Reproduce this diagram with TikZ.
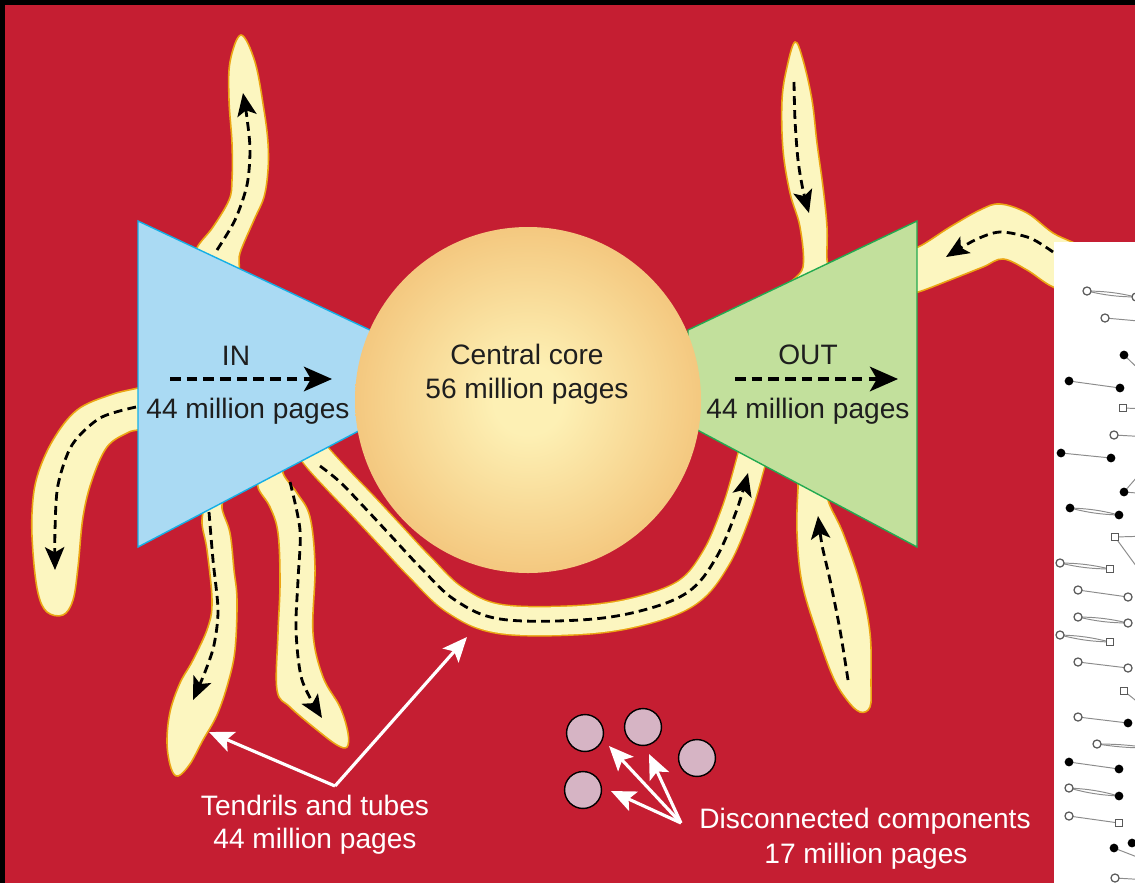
\documentclass[tikz,border=0pt]{standalone}
\usepackage{fontspec}
\setmainfont{Liberation Sans}
\usetikzlibrary{arrows.meta}
\definecolor{bgred}{RGB}{197,30,50}
\definecolor{tfill}{RGB}{252,246,192}
\definecolor{tedge}{RGB}{235,165,20}
\definecolor{inblue}{RGB}{170,218,243}
\definecolor{inedge}{RGB}{20,175,230}
\definecolor{outgreen}{RGB}{194,224,156}
\definecolor{outedge}{RGB}{35,170,80}
\definecolor{coreA}{RGB}{253,240,180}
\definecolor{coreB}{RGB}{233,152,64}
\definecolor{pinkc}{RGB}{214,180,196}
\definecolor{txtc}{RGB}{30,30,30}
\pgfdeclareradialshading{coreshade}{\pgfpoint{0bp}{0bp}}{color(0bp)=(coreA); color(5bp)=(coreA); color(49bp)=(coreB); color(50bp)=(coreB)}
\begin{document}
\begin{tikzpicture}[x=0.02cm,y=-0.02cm,
  tendril/.style={fill=tfill,draw=tedge,line width=0.9pt},
  flow/.style={draw=black,line width=1.6pt,dash pattern=on 5pt off 3pt,-{Stealth[length=13pt,width=11pt,inset=3pt]}},
  bigflow/.style={draw=black,line width=1.8pt,dash pattern=on 6pt off 3.5pt,-{Stealth[length=16pt,width=14pt,inset=4pt]}},
  wptr/.style={draw=white,line width=1.8pt,-{Stealth[length=14pt,width=12pt,inset=3pt]}},
  lbl/.style={font=\fontsize{16}{19}\selectfont,text=txtc,anchor=base,inner sep=0pt},
  wlbl/.style={font=\fontsize{16}{19}\selectfont,text=white,anchor=base,inner sep=0pt},
  comp/.style={circle,draw=black,line width=0.8pt,fill=pinkc,minimum size=21pt,inner sep=0pt},
  opn/.style={circle,draw=black!65,fill=white,line width=0.7pt,minimum size=4.6pt,inner sep=0pt},
  sqr/.style={rectangle,draw=black!65,fill=white,line width=0.7pt,minimum size=4pt,inner sep=0pt},
  fil/.style={circle,fill=black,minimum size=5pt,inner sep=0pt},
  gline/.style={draw=black!45,line width=0.55pt}]
\useasboundingbox (0,0) rectangle (1135,883);
\fill[black] (0,0) rectangle (1135,883);
\fill[bgred] (5,5) rectangle (1135,883);

% ---- tendrils ----
\filldraw[tendril] plot[smooth cycle,tension=0.6] coordinates {(200,262) (197,248) (213,227) (229,200) (232,180) (232,143) (229,100) (230,62) (241,35) (255,62) (264,110) (268,143) (268,170) (264,197) (254,220) (240,253) (236,275)};
\filldraw[tendril] plot[smooth cycle,tension=0.6] coordinates {(150,385) (138,388) (110,395) (77,410) (53,440) (37,477) (32,513) (33,553) (38,593) (47,612) (63,615) (73,600) (78,567) (83,517) (92,480) (107,447) (127,433) (138,430) (150,428)};
\filldraw[tendril] plot[smooth cycle,tension=0.6] coordinates {(210,495) (202,520) (207,550) (212,600) (208,627) (193,660) (180,683) (170,712) (167,743) (171,768) (178,776) (190,764) (203,740) (217,715) (228,683) (235,650) (237,600) (234,570) (230,533) (222,508) (225,490)};
\filldraw[tendril] plot[smooth cycle,tension=0.6] coordinates {(262,470) (258,487) (270,507) (278,533) (280,583) (278,633) (277,690) (290,707) (317,730) (337,745) (347,747) (348,733) (340,707) (323,677) (313,633) (315,567) (310,517) (297,493) (283,473) (285,455)};
\filldraw[tendril] plot[smooth cycle,tension=0.6] coordinates {(790,285) (803,267) (800,227) (790,193) (783,150) (782,100) (787,67) (795,42) (803,60) (812,100) (817,143) (823,187) (827,227) (827,260) (830,280)};
\filldraw[tendril] plot[smooth cycle,tension=0.6] coordinates {(905,245) (918,247) (950,227) (980,210) (1000,204) (1027,213) (1053,233) (1090,255) (1090,300) (1053,287) (1027,270) (1003,259) (983,267) (950,280) (918,292) (905,292)};
\filldraw[tendril] plot[smooth cycle,tension=0.6] coordinates {(800,475) (798,488) (797,533) (802,583) (817,633) (833,677) (847,700) (860,712) (870,707) (871,683) (870,633) (860,583) (843,533) (828,500) (830,480)};
% tube
\draw[tedge,line width=17.5pt] plot[smooth,tension=0.6] coordinates {(305,440) (318,458) (340,482) (365,508) (392,537) (420,567) (455,600) (500,619) (580,620) (640,611) (688,592) (716,558) (736,512) (750,465) (756,440)};
\draw[tfill,line width=15.8pt] plot[smooth,tension=0.6] coordinates {(305,440) (318,458) (340,482) (365,508) (392,537) (420,567) (455,600) (500,619) (580,620) (640,611) (688,592) (716,558) (736,512) (750,465) (756,440)};

% ---- IN / OUT ----
\filldraw[fill=inblue,draw=inedge,line width=0.8pt] (138,221) -- (370,330) -- (370,425) -- (138,547) -- cycle;
\filldraw[fill=outgreen,draw=outedge,line width=0.8pt] (917,221) -- (688,330) -- (688,425) -- (917,547) -- cycle;

% ---- core ----
\shade[shading=coreshade] (528,400) circle[radius=173];

% ---- flows in tendrils ----
\draw[flow] plot[smooth] coordinates {(217,250) (235,220) (247,185) (250,150) (247,118) (243,93)};
\draw[flow] plot[smooth] coordinates {(136,407) (100,418) (72,445) (58,485) (55,530) (55,570)};
\draw[flow] plot[smooth] coordinates {(209,512) (213,560) (218,610) (214,645) (205,672) (193,700)};
\draw[flow] plot[smooth] coordinates {(290,482) (300,530) (298,580) (296,630) (302,680) (322,718)};
\draw[flow] plot[smooth,tension=0.6] coordinates {(320,466) (340,482) (365,508) (392,537) (420,567) (455,600) (500,619) (580,620) (640,611) (688,592) (716,558) (736,512) (748,473)};
\draw[flow] plot[smooth] coordinates {(794,82) (795,120) (798,160) (803,190) (809,213)};
\draw[flow] plot[smooth] coordinates {(1053,252) (1030,238) (1000,232) (975,240) (946,257)};
\draw[flow] plot[smooth] coordinates {(848,680) (840,630) (830,580) (822,545) (818,516)};

% ---- texts ----
\node[lbl] (intitle) at (236,365) {IN};
\coordinate (inA) at (170,379);
\coordinate (inB) at (332,379);
\draw[bigflow] (inA) -- (inB);
\node[lbl] (inpages) at (248,418) {44 million pages};
\node[lbl] (outtitle) at (808,364) {OUT};
\coordinate (outA) at (735,379);
\coordinate (outB) at (898,379);
\draw[bigflow] (outA) -- (outB);
\node[lbl] (outpages) at (808,418) {44 million pages};
\node[lbl] (coretitle) at (527,364) {Central core};
\node[lbl] (corepages) at (527,398) {56 million pages};

% ---- tendrils label ----
\node[wlbl] (tendlbl) at (315,815) {Tendrils and tubes};
\node[wlbl] (tendpages) at (315,848) {44 million pages};
\coordinate (tsrc) at (335,786);
\coordinate (tend1) at (209,732);
\coordinate (tend2) at (467,637);
\draw[wptr] (tsrc) -- (tend1);
\draw[wptr] (tsrc) -- (tend2);

% ---- disconnected components ----
\node[comp] (c1) at (585,733) {};
\node[comp] (c2) at (643,727) {};
\node[comp] (c3) at (697,758) {};
\node[comp] (c4) at (583,790) {};
\coordinate (dsrc) at (681,823);
\coordinate (d1) at (609,746);
\coordinate (d2) at (649,754);
\coordinate (d3) at (611,791);
\draw[wptr] (dsrc) -- (d1);
\draw[wptr] (dsrc) -- (d2);
\draw[wptr] (dsrc) -- (d3);
\node[wlbl] (disclbl) at (865,828) {Disconnected components};
\node[wlbl] (discpages) at (866,863) {17 million pages};

% ---- graph panel ----
\fill[white] (1054,242) rectangle (1135,883);
\begin{scope}
\clip (1054,242) rectangle (1135,883);
\coordinate (r1) at (1150,322);
\coordinate (r2) at (1150,380);
\coordinate (r3) at (1150,409);
\coordinate (r4) at (1150,437);
\coordinate (r5) at (1150,462);
\coordinate (r6) at (1150,494);
\coordinate (r7) at (1150,536);
\coordinate (r8) at (1150,585);
\coordinate (r9) at (1150,712);
\coordinate (r10) at (1150,748);
\coordinate (r11) at (1150,862);
\coordinate (r12) at (1150,880);
\path (1087,291) coordinate (p1) (1136,297) coordinate (p2) (1105,318) coordinate (p3)
  (1124,355) coordinate (p4) (1069,381) coordinate (p5) (1120,388) coordinate (p6)
  (1123,408) coordinate (p7) (1114,435) coordinate (p8) (1061,453) coordinate (p9)
  (1111,458) coordinate (p10) (1124,492) coordinate (p11) (1070,508) coordinate (p12)
  (1119,515) coordinate (p13) (1115,537) coordinate (p14) (1060,563) coordinate (p15)
  (1110,569) coordinate (p16) (1078,590) coordinate (p17) (1128,597) coordinate (p18)
  (1078,617) coordinate (p19) (1128,623) coordinate (p20) (1060,635) coordinate (p21)
  (1110,642) coordinate (p22) (1078,662) coordinate (p23) (1128,668) coordinate (p24)
  (1124,691) coordinate (p25) (1078,717) coordinate (p26) (1128,723) coordinate (p27)
  (1097,744) coordinate (p28) (1069,762) coordinate (p29) (1119,769) coordinate (p30)
  (1069,788) coordinate (p31) (1119,796) coordinate (p32) (1069,816) coordinate (p33)
  (1119,823) coordinate (p34) (1132,843) coordinate (p35) (1114,848) coordinate (p36)
  (1115,878) coordinate (p37);
\draw[gline] (p1) to[bend left=6] (p2);
\draw[gline] (p1) to[bend right=6] (p2);
\draw[gline] (p3) -- (r1);
\draw[gline] (p4) -- (r2);
\draw[gline] (p5) -- (p6);
\draw[gline] (p7) -- (r3);
\draw[gline] (p8) -- (r4);
\draw[gline] (p9) -- (p10);
\draw[gline] (p11) -- (r5);
\draw[gline] (p11) -- (r6);
\draw[gline] (p12) to[bend left=6] (p13);
\draw[gline] (p12) to[bend right=6] (p13);
\draw[gline] (p14) -- (r7);
\draw[gline] (p14) -- (r8);
\draw[gline] (p15) to[bend left=6] (p16);
\draw[gline] (p15) to[bend right=6] (p16);
\draw[gline] (p17) -- (p18);
\draw[gline] (p19) to[bend left=6] (p20);
\draw[gline] (p19) to[bend right=6] (p20);
\draw[gline] (p21) to[bend left=6] (p22);
\draw[gline] (p21) to[bend right=6] (p22);
\draw[gline] (p23) -- (p24);
\draw[gline] (p25) -- (r9);
\draw[gline] (p26) -- (p27);
\draw[gline] (p28) to[bend left=4] (r10);
\draw[gline] (p28) to[bend right=4] (r10);
\draw[gline] (p29) -- (p30);
\draw[gline] (p31) to[bend left=6] (p32);
\draw[gline] (p31) to[bend right=6] (p32);
\draw[gline] (p33) -- (p34);
\draw[gline] (p36) -- (r11);
\draw[gline] (p37) -- (r12);
\node[opn] (g1) at (p1) {};
\node[opn] (g2) at (p2) {};
\node[opn] (g3) at (p3) {};
\node[fil] (g4) at (p4) {};
\node[fil] (g5) at (p5) {};
\node[fil] (g6) at (p6) {};
\node[sqr] (g7) at (p7) {};
\node[opn] (g8) at (p8) {};
\node[fil] (g9) at (p9) {};
\node[fil] (g10) at (p10) {};
\node[fil] (g11) at (p11) {};
\node[fil] (g12) at (p12) {};
\node[fil] (g13) at (p13) {};
\node[sqr] (g14) at (p14) {};
\node[opn] (g15) at (p15) {};
\node[sqr] (g16) at (p16) {};
\node[opn] (g17) at (p17) {};
\node[opn] (g18) at (p18) {};
\node[opn] (g19) at (p19) {};
\node[opn] (g20) at (p20) {};
\node[opn] (g21) at (p21) {};
\node[sqr] (g22) at (p22) {};
\node[opn] (g23) at (p23) {};
\node[opn] (g24) at (p24) {};
\node[sqr] (g25) at (p25) {};
\node[opn] (g26) at (p26) {};
\node[fil] (g27) at (p27) {};
\node[opn] (g28) at (p28) {};
\node[fil] (g29) at (p29) {};
\node[fil] (g30) at (p30) {};
\node[opn] (g31) at (p31) {};
\node[fil] (g32) at (p32) {};
\node[opn] (g33) at (p33) {};
\node[sqr] (g34) at (p34) {};
\node[fil] (g35) at (p35) {};
\node[fil] (g36) at (p36) {};
\node[opn] (g37) at (p37) {};
\end{scope}
\end{tikzpicture}
\end{document}
